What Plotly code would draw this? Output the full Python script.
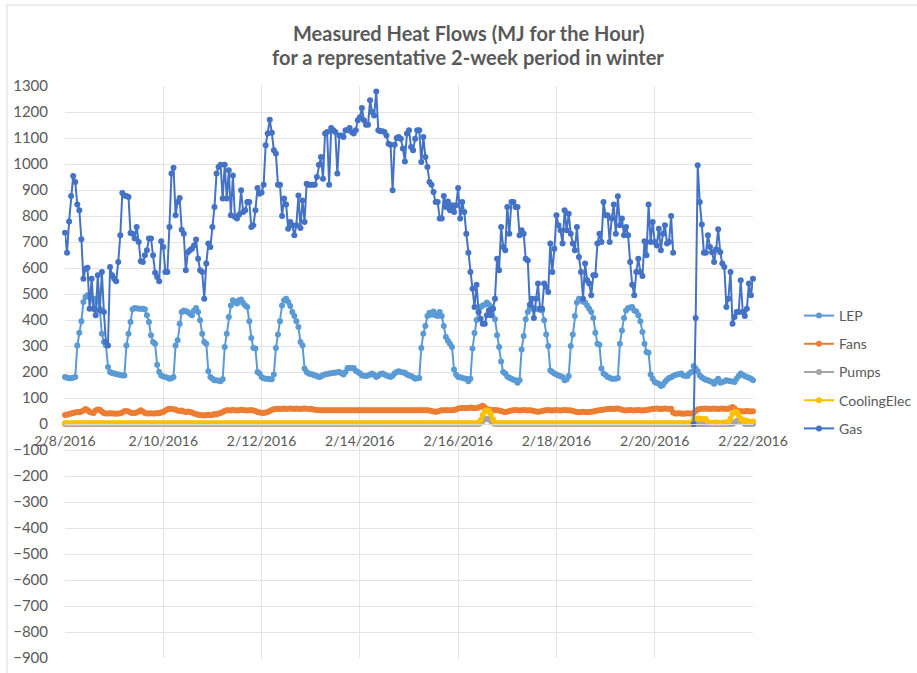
import plotly.graph_objects as go
import pandas as pd

# ---------------- data (hourly, 2/8/2016 00:00 -> 2/22/2016 00:00) ----------------
start = "2016-02-08 00:00"
n_hours = 337
times = pd.date_range(start, periods=n_hours, freq="h")

gas = [
    # 2/8
    736, 659, 779, 877, 954, 931, 844, 822, 711, 559, 597, 601, 443, 559, 443, 418, 572, 437, 585, 431, 315, 302, 604, 572,
    # 2/9
    559, 549, 623, 726, 888, 879, 877, 873, 735, 732, 713, 758, 700, 626, 623, 649, 668, 713, 713, 649, 582, 565, 549, 703,
    # 2/10
    681, 585, 585, 758, 963, 986, 803, 854, 869, 747, 732, 591, 661, 668, 674, 687, 710, 636, 591, 585, 482, 617, 694, 681,
    # 2/11
    758, 835, 963, 988, 997, 867, 997, 867, 976, 803, 956, 796, 790, 805, 899, 815, 822, 854, 854, 758, 764, 822, 908, 886,
    # 2/12
    890, 920, 1072, 1117, 1170, 1120, 1053, 1040, 920, 920, 800, 867, 844, 751, 777, 764, 726, 764, 879, 754, 860, 777, 924, 920,
    # 2/13
    920, 920, 920, 950, 997, 1027, 943, 1117, 1123, 920, 1138, 1130, 1123, 963, 1110, 1110, 1104, 1130, 1130, 1138, 1123, 1117, 1130, 1168,
    # 2/14
    1180, 1215, 1168, 1151, 1151, 1245, 1200, 1187, 1279, 1130, 1126, 1126, 1123, 1110, 1078, 1074, 899, 1074, 1100, 1104, 1097, 1060, 1010, 1117,
    # 2/15
    1130, 1065, 1053, 1097, 1130, 1130, 1008, 1104, 1027, 988, 931, 920, 892, 854, 854, 790, 790, 877, 835, 856, 822, 841, 815, 841,
    # 2/16
    908, 790, 854, 815, 732, 659, 585, 520, 450, 536, 431, 405, 386, 386, 418, 437, 418, 443, 482, 636, 591, 758, 681, 668,
    # 2/17
    835, 732, 854, 854, 835, 835, 726, 745, 732, 636, 629, 459, 482, 408, 482, 540, 443, 443, 540, 527, 508, 694, 585, 674,
    # 2/18
    803, 764, 745, 694, 822, 745, 809, 732, 694, 668, 758, 642, 585, 482, 617, 553, 540, 495, 572, 572, 694, 732, 700, 854,
    # 2/19
    803, 803, 700, 790, 844, 732, 876, 764, 790, 726, 758, 726, 623, 536, 495, 585, 636, 585, 569, 703, 649, 844, 700, 777,
    # 2/20
    700, 687, 751, 668, 732, 764, 694, 700, 800, 659, None, None, None, None, None, None, None, None, None, 0, 408, 995, 854, 767,
    # 2/21
    659, 659, 726, 681, 661, 623, 672, 749, 661, 617, 604, 450, 482, 585, 386, 412, 431, 431, 553, 431, 415, 443, 540, 495,
    # 2/22 00:00
    559,
]

lep = [
    # 2/8
    181, 178, 176, 176, 178, 181, 302, 351, 395, 469, 488, 495, 488, 482, 443, 482, 470, 443, 347, 315, 302, 219, 200, 196,
    # 2/9
    194, 192, 190, 188, 187, 187, 302, 347, 392, 441, 446, 445, 443, 443, 443, 441, 418, 392, 341, 315, 309, 228, 200, 187,
    # 2/10
    183, 181, 178, 174, 176, 181, 302, 322, 386, 431, 437, 434, 431, 424, 418, 437, 446, 431, 399, 347, 315, 309, 203, 181,
    # 2/11
    174, 168, 168, 166, 164, 172, 296, 347, 412, 456, 476, 470, 463, 476, 479, 465, 456, 450, 395, 331, 292, 290, 200, 194,
    # 2/12
    181, 176, 174, 174, 172, 172, 190, 292, 344, 395, 456, 476, 482, 469, 454, 431, 415, 395, 373, 315, 302, 213, 200, 194,
    # 2/13
    192, 190, 187, 185, 181, 183, 188, 190, 192, 194, 195, 197, 197, 199, 200, 195, 190, 200, 215, 215, 214, 215, 205, 200,
    # 2/14
    195, 187, 186, 185, 187, 190, 194, 188, 181, 186, 192, 194, 190, 187, 184, 181, 186, 195, 200, 203, 200, 198, 197, 190,
    # 2/15
    187, 185, 180, 174, 176, 177, 292, 347, 377, 415, 428, 420, 433, 418, 415, 431, 415, 377, 335, 320, 309, 296, 210, 190,
    # 2/16
    181, 180, 177, 175, 174, 164, 174, 290, 350, 400, 431, 450, 456, 459, 467, 460, 450, 443, 403, 341, 296, 240, 200, 194,
    # 2/17
    183, 178, 174, 170, 168, 159, 168, 287, 338, 403, 431, 443, 444, 446, 443, 441, 439, 437, 399, 344, 300, 206, 200, 194,
    # 2/18
    190, 187, 184, 181, 168, 172, 185, 300, 344, 415, 467, 482, 476, 470, 467, 456, 443, 431, 408, 351, 309, 305, 213, 194,
    # 2/19
    188, 181, 178, 174, 174, 174, 177, 309, 360, 408, 437, 446, 448, 450, 437, 433, 418, 395, 354, 309, 277, 274, 190, 174,
    # 2/20
    162, 158, 155, 146, 150, 162, 170, 177, 180, 185, 188, 190, 192, 194, 187, 186, 185, 195, 200, 223, 213, 203, 187, 180,
    # 2/21
    174, 170, 168, 164, 162, 155, 165, 174, 159, 162, 164, 168, 166, 164, 163, 162, 174, 185, 194, 188, 185, 181, 178, 174,
    # 2/22 00:00
    168,
]

fans = [
    # 2/8
    35, 36, 38, 40, 42, 44, 46, 45, 48, 52, 58, 54, 46, 44, 42, 52, 56, 55, 48, 42, 40, 40, 41, 40,
    # 2/9
    40, 39, 40, 41, 44, 49, 50, 48, 44, 42, 42, 44, 48, 53, 48, 42, 40, 40, 41, 40, 40, 42, 41, 44,
    # 2/10
    46, 52, 56, 59, 58, 57, 55, 52, 50, 52, 48, 46, 48, 46, 44, 40, 38, 36, 35, 34, 33, 35, 36, 34,
    # 2/11
    35, 38, 37, 40, 42, 46, 50, 53, 53, 52, 54, 53, 52, 53, 55, 54, 53, 52, 53, 54, 52, 50, 46, 44,
    # 2/12
    43, 42, 44, 46, 50, 54, 57, 58, 59, 58, 59, 60, 58, 59, 60, 59, 58, 60, 59, 58, 59, 60, 59, 58,
    # 2/13
    59, 57, 55, 54, 53, 53, 53, 53, 53, 53, 53, 53, 53, 53, 53, 53, 53, 53, 53, 53, 53, 53, 53, 53,
    # 2/14
    53, 53, 53, 53, 53, 53, 53, 53, 53, 53, 53, 53, 53, 53, 53, 53, 53, 53, 53, 53, 53, 53, 53, 53,
    # 2/15
    53, 53, 53, 53, 53, 53, 53, 53, 53, 53, 52, 50, 48, 47, 48, 51, 53, 53, 53, 53, 53, 53, 54, 56,
    # 2/16
    60, 61, 62, 62, 61, 62, 63, 62, 61, 62, 63, 66, 70, 64, 58, 55, 54, 53, 54, 53, 52, 50, 47, 46,
    # 2/17
    47, 50, 52, 53, 54, 53, 52, 53, 54, 53, 52, 53, 52, 50, 48, 47, 48, 50, 52, 53, 54, 53, 52, 53,
    # 2/18
    54, 53, 52, 53, 54, 53, 52, 53, 50, 48, 46, 45, 46, 47, 46, 45, 46, 47, 48, 50, 52, 53, 54, 55,
    # 2/19
    57, 58, 59, 59, 58, 59, 60, 58, 55, 53, 52, 53, 54, 53, 52, 53, 54, 53, 52, 53, 54, 55, 57, 58,
    # 2/20
    59, 60, 59, 58, 59, 60, 59, 58, 59, 44, 40, 40, 41, 40, 39, 40, 41, 40, 40, 42, 50, 56, 58, 59,
    # 2/21
    59, 60, 59, 58, 59, 60, 59, 58, 59, 60, 59, 58, 59, 62, 65, 60, 52, 50, 49, 48, 49, 50, 49, 48,
    # 2/22 00:00
    49,
]

pumps = [0] * 203 + [5, 12, 18, 20, 18, 12, 5] + [0] * 117 + [5, 12, 14, 12, 8] + [0] * 5

cooling_elec = (
    [3] * 202
    + [5, 15, 35, 48, 53, 50, 38, 18, 5]
    + [3] * 96
    + [18, 20, 21, 20, 19, 20, 18]
    + [6, 5, 4, 5, 6, 5, 4, 5, 6, 5, 8]
    + [20, 38, 46, 46, 35, 20]
    + [12, 14, 12, 10, 8, 10]
)

series_names = ["LEP", "Fans", "Pumps", "CoolingElec", "Gas"]
series_values = [lep, fans, pumps, cooling_elec, gas]
series_colors = ["#5B9BD5", "#ED7D31", "#A5A5A5", "#FFC000", "#4472C4"]

tick_dates = ["2016-02-08", "2016-02-10", "2016-02-12", "2016-02-14",
              "2016-02-16", "2016-02-18", "2016-02-20", "2016-02-22"]
tick_labels = ["2/8/2016", "2/10/2016", "2/12/2016", "2/14/2016",
               "2/16/2016", "2/18/2016", "2/20/2016", "2/22/2016"]

title_lines = ["Measured Heat Flows (MJ for the Hour)",
               "for a representative 2-week period in winter"]

y_min, y_max = -900, 1300

# ---------------- figure ----------------
FONT = "Lato"
GREY = "#595959"

fig = go.Figure()
for name, vals, col in zip(series_names, series_values, series_colors):
    fig.add_trace(go.Scatter(
        x=times[:len(vals)], y=vals, name=name, mode="lines+markers",
        line=dict(color=col, width=2),
        marker=dict(color=col, size=6, symbol="circle"),
        connectgaps=False, cliponaxis=False, legendgroup=name,
    ))

W, H = 917, 673
L, R, T, B = 65, 753, 86, 658
PW, PH = R - L, B - T


def px(x):
    return (x - L) / PW


def py(y):
    return (B - y) / PH


fig.update_layout(
    width=W, height=H,
    margin=dict(l=L, r=W - R, t=T, b=H - B, pad=0, autoexpand=False),
    paper_bgcolor="white", plot_bgcolor="white",
    font=dict(family=FONT, color=GREY, size=14),
    showlegend=True,
    legend=dict(
        x=px(799), y=py(300), xanchor="left", yanchor="top",
        font=dict(family=FONT, size=14, color=GREY),
        tracegroupgap=7, itemwidth=30, bgcolor="rgba(0,0,0,0)",
    ),
    annotations=[
        dict(text="<b>" + title_lines[0] + "</b>", xref="paper", yref="paper",
             x=px(468), y=py(33), xanchor="center", yanchor="middle",
             showarrow=False, font=dict(family=FONT, size=20, color=GREY)),
        dict(text="<b>" + title_lines[1] + "</b>", xref="paper", yref="paper",
             x=px(468), y=py(57), xanchor="center", yanchor="middle",
             showarrow=False, font=dict(family=FONT, size=20, color=GREY)),
    ],
    shapes=[
        dict(type="rect", xref="paper", yref="paper",
             x0=px(7), x1=px(W + 5), y0=py(H + 5), y1=py(5),
             line=dict(color="#D9D9D9", width=1), fillcolor="rgba(0,0,0,0)", layer="below"),
    ],
)

fig.update_yaxes(
    range=[y_min, y_max], dtick=100, tick0=0,
    showgrid=True, gridcolor="#E3E3E3", gridwidth=1,
    zeroline=False, showline=False, ticks="",
    ticklabelstandoff=16, automargin=False,
    tickfont=dict(family=FONT, size=15, color=GREY),
)
fig.update_xaxes(
    type="date", range=[tick_dates[0], tick_dates[-1]],
    tickmode="array", tickvals=tick_dates, ticktext=tick_labels,
    showgrid=True, gridcolor="#E3E3E3", gridwidth=1,
    anchor="free", position=(0 - y_min) / (y_max - y_min),
    showline=True, linecolor="#D9D9D9", linewidth=1, ticks="",
    ticklabelstandoff=4, automargin=False,
    tickfont=dict(family=FONT, size=14, color=GREY),
    zeroline=False,
)

fig.write_html(
    "out.html",
    config={"displayModeBar": False},
    post_script="document.body.style.margin='0';document.body.style.overflow='hidden';",
)
